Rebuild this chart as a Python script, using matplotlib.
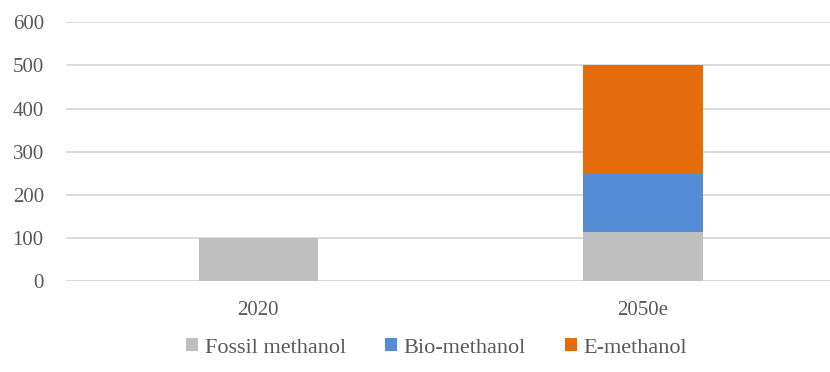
import matplotlib
matplotlib.use('Agg')
import matplotlib.pyplot as plt

## methanol production by type, 2020 vs 2050e

years = ['2020', '2050e']
fossil = [100, 115]
bio = [0, 135]
e_meth = [0, 250]

plt.rcParams['font.family'] = ['Liberation Serif', 'DejaVu Serif']
txt = '#595959'

fig = plt.figure(figsize=(8.3, 3.72), dpi=100)
ax = fig.add_axes([66/830, 1 - 281.3/372, (830 - 66)/830, 259/372])

x = range(len(years))
w = 0.31
ax.bar(x, fossil, w, color='#bfbfbf', label='Fossil methanol', zorder=3)
ax.bar(x, bio, w, bottom=fossil, color='#548dd5', label='Bio-methanol', zorder=3)
bottom2 = [f + b for f, b in zip(fossil, bio)]
ax.bar(x, e_meth, w, bottom=bottom2, color='#e46c0a', label='E-methanol', zorder=3)

ax.set_xlim(-0.5, 1.486)
ax.set_ylim(0, 600)
ax.set_yticks(range(0, 601, 100))
ax.set_xticks(list(x))
ax.set_xticklabels(years)
ax.grid(axis='y', color='#d9d9d9', lw=1.3, zorder=0)
for s in ax.spines.values():
    s.set_visible(False)
ax.tick_params(length=0, labelsize=15, colors=txt)
ax.tick_params(axis='y', pad=16)
ax.tick_params(axis='x', pad=14)

leg = fig.legend(loc='lower center', bbox_to_anchor=(0.526, -0.015), ncol=3,
                 frameon=False, fontsize=16, handlelength=0.55, handleheight=0.55,
                 handletextpad=0.3, columnspacing=1.75)
for t in leg.get_texts():
    t.set_color(txt)

fig.savefig('out.png', dpi=100)
